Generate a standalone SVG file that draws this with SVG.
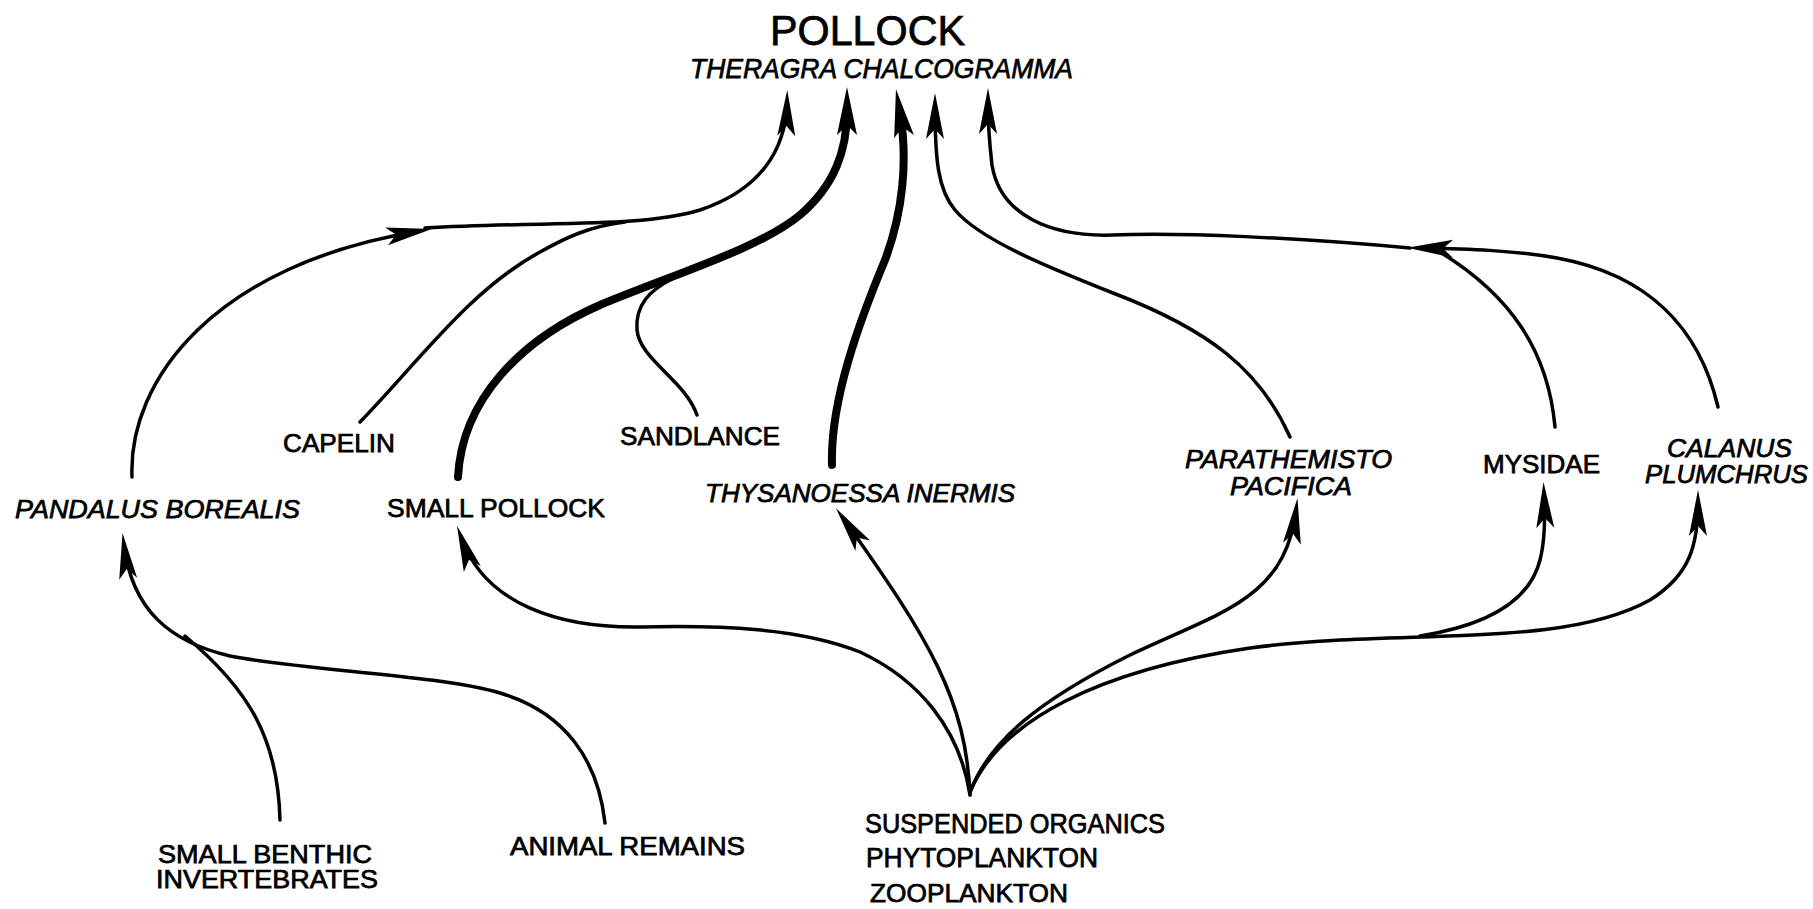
<svg xmlns="http://www.w3.org/2000/svg" width="1813" height="909" viewBox="0 0 1813 909">
<style>
.t{font-family:"Liberation Sans",Arial,Helvetica,sans-serif;font-size:25px;fill:#000;stroke:#000;stroke-width:0.75;}
.i{font-style:italic;}
.c{fill:none;stroke:#000;stroke-width:3.5;stroke-linecap:round;stroke-linejoin:round;}
.k{fill:none;stroke:#000;stroke-width:8;stroke-linecap:round;stroke-linejoin:round;}
</style>
<defs>
<marker id="ah" markerUnits="userSpaceOnUse" markerWidth="60" markerHeight="30" viewBox="-50 -15 60 30" refX="-12" refY="0" orient="auto" overflow="visible">
<path d="M0,0 L-46,-9 L-36,0 L-46,9 Z" fill="#000"/>
</marker>
<marker id="ahk" markerUnits="userSpaceOnUse" markerWidth="60" markerHeight="30" viewBox="-55 -15 60 30" refX="-24" refY="0" orient="auto" overflow="visible">
<path d="M0,0 L-48,-10 L-38,0 L-48,10 Z" fill="#000"/>
</marker>
</defs>
<rect width="1813" height="909" fill="#fff"/>

<g id="connectors">
<!-- Pandalus -> mid arrow, then trunk to Pollock -->
<path class="c" d="M132,477 C128,380 215,264 420,231" marker-end="url(#ah)"/>
<path class="c" d="M425,228 C550,221 640,228 700,210 C760,190 786,150 787,102" marker-end="url(#ah)"/>
<!-- Capelin -->
<path class="c" d="M360,422 C420,360 470,290 540,252 C565,238 590,226 625,222"/>
<!-- Small pollock (thick) -->
<path class="k" d="M458,477 C462,400 520,340 600,305 C680,272 760,248 800,215 C835,185 847,150 847,111" marker-end="url(#ahk)"/>
<!-- Sandlance -->
<path class="c" d="M697,415 C685,380 640,360 637,330 C635,305 650,290 672,279"/>
<!-- Thysanoessa (thick) -->
<path class="k" d="M832,465 C830,400 860,320 885,260 C903,212 908,160 900,113" marker-end="url(#ahk)"/>
<!-- Parathemisto -> Pollock -->
<path class="c" d="M1290,437 C1260,370 1210,330 1113,293 C1050,268 980,240 955,210 C938,190 935,160 935,105" marker-end="url(#ah)"/>
<!-- Right trunk -> Pollock -->
<path class="c" d="M1410,248 C1300,238 1180,232 1113,235 C1050,237 1000,215 992,165 C989,140 988,120 988,100" marker-end="url(#ah)"/>
<!-- Calanus -> mid arrow -->
<path class="c" d="M1718,407 C1700,330 1650,275 1557,258 C1510,250 1470,249 1419,248" marker-end="url(#ah)"/>
<!-- Mysidae -> mid arrow -->
<path class="c" d="M1555,427 C1548,350 1510,295 1440,252"/>
<!-- Animal remains -> Pandalus -->
<path class="c" d="M605,823 C598,760 565,712 500,693 C440,675 300,670 230,656 C170,642 132,610 124,545" marker-end="url(#ah)"/>
<!-- Small benthic invertebrates -> Pandalus -->
<path class="c" d="M280,820 C278,740 250,690 185,636"/>
<!-- Suspended organics -> Small pollock -->
<path class="c" d="M970,795 C960,730 920,680 860,652 C800,628 720,625 640,627 C560,628 485,605 461,537" marker-end="url(#ah)"/>
<!-- Suspended organics -> Thysanoessa -->
<path class="c" d="M970,795 C966,700 930,640 843,518" marker-end="url(#ah)"/>
<!-- Suspended organics -> Parathemisto -->
<path class="c" d="M970,792 C990,740 1040,700 1130,655 C1220,612 1285,600 1296,510" marker-end="url(#ah)"/>
<!-- Suspended organics -> Calanus -->
<path class="c" d="M970,792 C1000,720 1100,670 1250,648 C1400,628 1560,650 1650,600 C1690,575 1698,545 1698,502" marker-end="url(#ah)"/>
<!-- branch -> Mysidae -->
<path class="c" d="M1420,636 C1490,625 1530,600 1540,560 C1545,540 1545,520 1544,494" marker-end="url(#ah)"/>
</g>

<g id="pollock">
<text class="t" x="770" y="45" style="font-size:42px" textLength="195" lengthAdjust="spacingAndGlyphs">POLLOCK</text>
<text class="t i" x="690" y="78" style="font-size:28px" textLength="383" lengthAdjust="spacingAndGlyphs">THERAGRA CHALCOGRAMMA</text>
</g>
<g id="capelin"><text class="t" x="283" y="452" textLength="112" lengthAdjust="spacingAndGlyphs">CAPELIN</text></g>
<g id="sandlance"><text class="t" x="620" y="445" textLength="160" lengthAdjust="spacingAndGlyphs">SANDLANCE</text></g>
<g id="pandalus"><text class="t i" x="15" y="518" style="font-size:26px" textLength="285" lengthAdjust="spacingAndGlyphs">PANDALUS BOREALIS</text></g>
<g id="small-pollock"><text class="t" x="387" y="517" textLength="218" lengthAdjust="spacingAndGlyphs">SMALL POLLOCK</text></g>
<g id="thysanoessa"><text class="t i" x="705" y="502" textLength="310" lengthAdjust="spacingAndGlyphs">THYSANOESSA INERMIS</text></g>
<g id="parathemisto">
<text class="t i" x="1185" y="468" textLength="207" lengthAdjust="spacingAndGlyphs">PARATHEMISTO</text>
<text class="t i" x="1230" y="495" textLength="122" lengthAdjust="spacingAndGlyphs">PACIFICA</text>
</g>
<g id="mysidae"><text class="t" x="1483" y="473" textLength="117" lengthAdjust="spacingAndGlyphs">MYSIDAE</text></g>
<g id="calanus">
<text class="t i" x="1667" y="457" textLength="125" lengthAdjust="spacingAndGlyphs">CALANUS</text>
<text class="t i" x="1645" y="483" textLength="163" lengthAdjust="spacingAndGlyphs">PLUMCHRUS</text>
</g>
<g id="benthic">
<text class="t" x="158" y="863" textLength="214" lengthAdjust="spacingAndGlyphs">SMALL BENTHIC</text>
<text class="t" x="156" y="888" textLength="222" lengthAdjust="spacingAndGlyphs">INVERTEBRATES</text>
</g>
<g id="animal-remains"><text class="t" x="510" y="855" textLength="235" lengthAdjust="spacingAndGlyphs">ANIMAL REMAINS</text></g>
<g id="suspended">
<text class="t" x="865" y="833" style="font-size:27px" textLength="300" lengthAdjust="spacingAndGlyphs">SUSPENDED ORGANICS</text>
<text class="t" x="866" y="867" style="font-size:27px" textLength="232" lengthAdjust="spacingAndGlyphs">PHYTOPLANKTON</text>
<text class="t" x="870" y="902" style="font-size:26px" textLength="198" lengthAdjust="spacingAndGlyphs">ZOOPLANKTON</text>
</g>
</svg>
